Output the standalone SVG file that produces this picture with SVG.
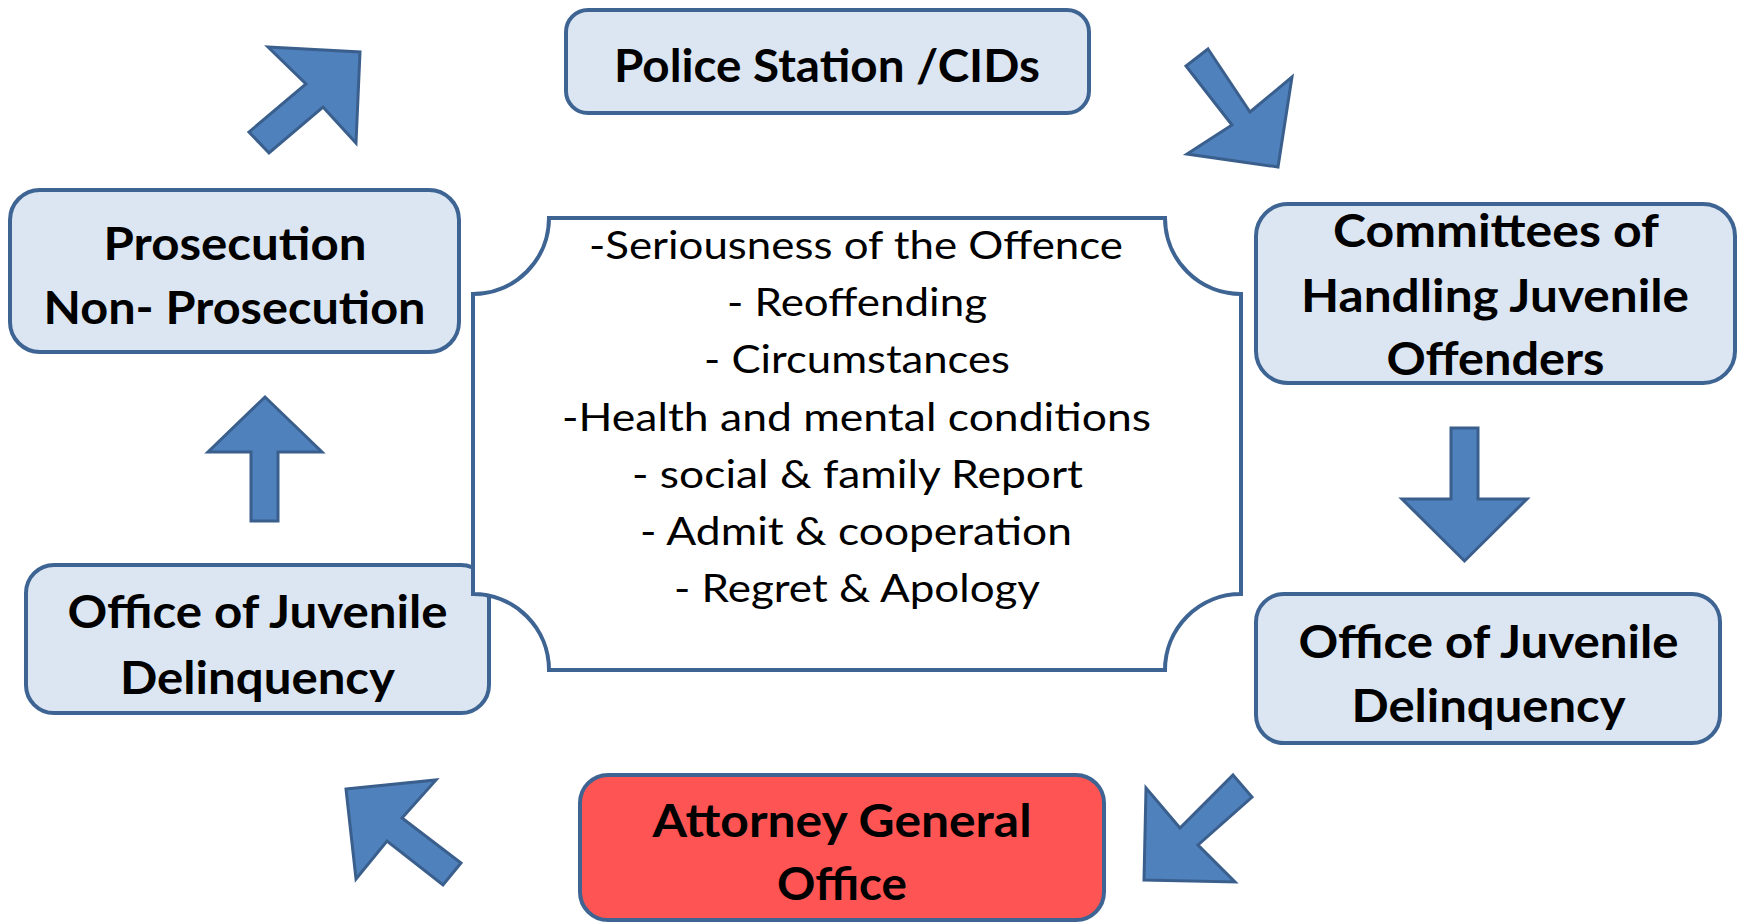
<svg xmlns="http://www.w3.org/2000/svg" width="1742" height="923" viewBox="0 0 1742 923">
  <style>
    .box{fill:#dce6f2;stroke:#3e6493;stroke-width:4}
    .red{fill:#ff5454}
    .plaque{fill:#ffffff;stroke:#3e6493;stroke-width:4}
    .arrow{fill:#4f81bd;stroke:#3a5f8d;stroke-width:3;stroke-linejoin:miter}
    .hd{font-family:Lato,"Open Sans","Liberation Sans",sans-serif;font-weight:700;font-size:45px;fill:#000;text-anchor:middle}
    .li{font-family:Lato,"Open Sans","Liberation Sans",sans-serif;font-weight:400;font-size:39px;fill:#000;text-anchor:middle}
  </style>
  <rect width="1742" height="923" fill="#ffffff"/>

  <!-- block arrows between the stages -->
  <g id="connectors">
    <polygon class="arrow" points="268,47 360,52 356,143 323,107 269,153 249,132 306,84"/>
    <polygon class="arrow" points="1208,49 1250,112 1292,77 1278,167 1187,154 1232,125 1186,66"/>
    <polygon class="arrow" points="1451,428 1478,428 1478,499 1527,499 1464.5,561 1402,499 1451,499"/>
    <polygon class="arrow" points="1233,775 1252,797 1198,845 1235,882 1144,880 1146,788 1180,828"/>
    <polygon class="arrow" points="346,789 436,780 402,818 461,863 443,885 387,841 356,879"/>
    <polygon class="arrow" points="265,397 322,452 278,452 278,521 251,521 251,452 208,452"/>
  </g>

  <g id="police-station">
    <rect class="box" x="566" y="10" width="523" height="103" rx="22"/>
    <text class="hd" x="827" y="82" textLength="426" lengthAdjust="spacingAndGlyphs">Police Station /CIDs</text>
  </g>

  <g id="committees">
    <rect class="box" x="1256" y="204" width="479" height="179" rx="32"/>
    <text class="hd" x="1496" y="247" textLength="326" lengthAdjust="spacingAndGlyphs">Committees of</text>
    <text class="hd" x="1495" y="312" textLength="388" lengthAdjust="spacingAndGlyphs">Handling Juvenile</text>
    <text class="hd" x="1495.5" y="375" textLength="218" lengthAdjust="spacingAndGlyphs">Offenders</text>
  </g>

  <g id="office-right">
    <rect class="box" x="1256" y="594" width="464" height="149" rx="28"/>
    <text class="hd" x="1488.5" y="658" textLength="380" lengthAdjust="spacingAndGlyphs">Office of Juvenile</text>
    <text class="hd" x="1488.5" y="722" textLength="274" lengthAdjust="spacingAndGlyphs">Delinquency</text>
  </g>

  <g id="attorney-general">
    <rect class="box red" x="580" y="775" width="524" height="145" rx="28"/>
    <text class="hd" x="842" y="837" textLength="379" lengthAdjust="spacingAndGlyphs">Attorney General</text>
    <text class="hd" x="842" y="900" textLength="130" lengthAdjust="spacingAndGlyphs">Office</text>
  </g>

  <g id="office-left">
    <rect class="box" x="26" y="565" width="463" height="148" rx="28"/>
    <text class="hd" x="257.5" y="628" textLength="380" lengthAdjust="spacingAndGlyphs">Office of Juvenile</text>
    <text class="hd" x="257.5" y="693.5" textLength="275" lengthAdjust="spacingAndGlyphs">Delinquency</text>
  </g>

  <g id="prosecution">
    <rect class="box" x="10" y="190" width="449" height="162" rx="30"/>
    <text class="hd" x="235" y="260" textLength="263" lengthAdjust="spacingAndGlyphs">Prosecution</text>
    <text class="hd" x="234.5" y="324" textLength="382" lengthAdjust="spacingAndGlyphs">Non- Prosecution</text>
  </g>

  <!-- criteria plaque, drawn over the left office box corner -->
  <g id="criteria">
    <path class="plaque" d="M549,218 L1165,218 A76,76 0 0 0 1241,294 L1241,594 A76,76 0 0 0 1165,670 L549,670 A76,76 0 0 0 473,594 L473,294 A76,76 0 0 0 549,218 Z"/>
    <text class="li" x="856" y="259" textLength="534" lengthAdjust="spacingAndGlyphs">-Seriousness of the Offence</text>
    <text class="li" x="857" y="316" textLength="260" lengthAdjust="spacingAndGlyphs">- Reoffending</text>
    <text class="li" x="857" y="373" textLength="306" lengthAdjust="spacingAndGlyphs">- Circumstances</text>
    <text class="li" x="856.5" y="431" textLength="589" lengthAdjust="spacingAndGlyphs">-Health and mental conditions</text>
    <text class="li" x="857.5" y="488" textLength="451" lengthAdjust="spacingAndGlyphs">- social &amp; family Report</text>
    <text class="li" x="856" y="545" textLength="432" lengthAdjust="spacingAndGlyphs">- Admit &amp; cooperation</text>
    <text class="li" x="857" y="602" textLength="366" lengthAdjust="spacingAndGlyphs">- Regret &amp; Apology</text>
  </g>
</svg>
